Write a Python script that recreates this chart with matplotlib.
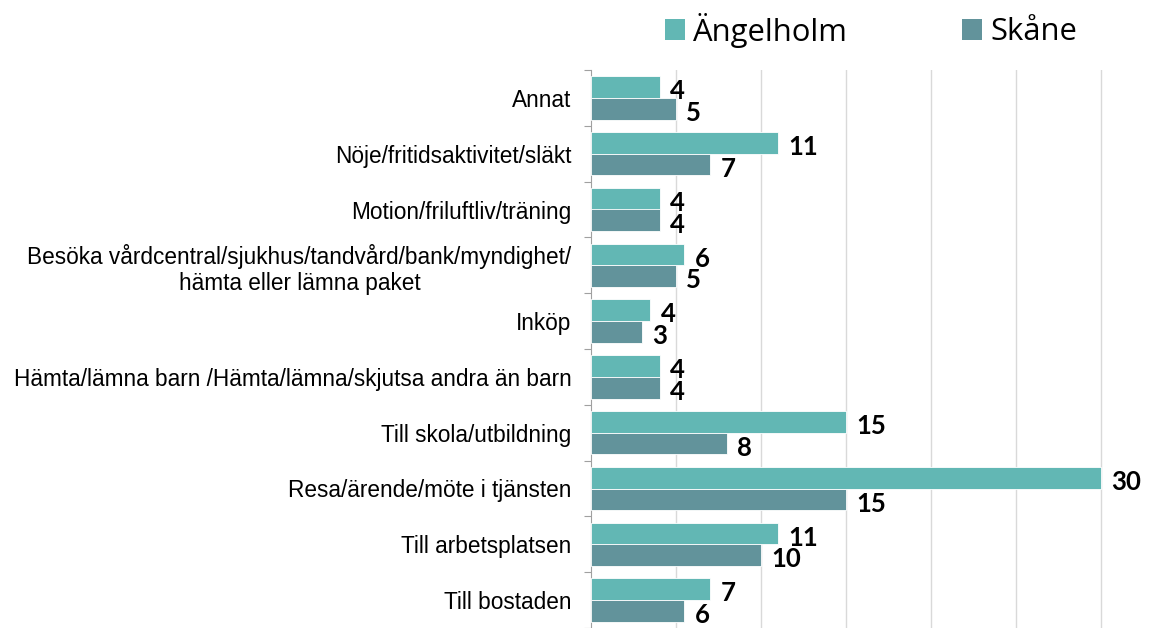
import matplotlib
matplotlib.use("Agg")
import matplotlib.pyplot as plt
import numpy as np
from matplotlib.patches import Patch

categories = [
    "Annat",
    "Nöje/fritidsaktivitet/släkt",
    "Motion/friluftliv/träning",
    "Besöka vårdcentral/sjukhus/tandvård/bank/myndighet/\nhämta eller lämna paket",
    "Inköp",
    "Hämta/lämna barn /Hämta/lämna/skjutsa andra än barn",
    "Till skola/utbildning",
    "Resa/ärende/möte i tjänsten",
    "Till arbetsplatsen",
    "Till bostaden",
]
angelholm = [4.05, 11, 4.05, 5.5, 3.5, 4.05, 15, 30, 11, 7]
skane = [5, 7, 4.05, 5, 3, 4.05, 8, 15, 10, 5.5]
series_names = ["Ängelholm", "Skåne"]
colors = ["#62B7B4", "#62939B"]

W, H = 1171, 628
fig = plt.figure(figsize=(W / 100, H / 100), dpi=100)
ax = fig.add_axes([591 / W, 0, (1111 - 591) / W, 1 - 70 / H])

n = len(categories)
y = np.arange(n)[::-1].astype(float)  # Annat at top
bh = 0.39
ax.barh(y + bh / 2, angelholm, height=bh, color=colors[0], edgecolor="white", linewidth=0.6, zorder=3)
ax.barh(y - bh / 2, skane, height=bh, color=colors[1], edgecolor="white", linewidth=0.6, zorder=3)

lab_font = {"family": ["Lato", "DejaVu Sans"], "weight": "bold", "size": 18.5}
for yy, v in zip(y, angelholm):
    ax.annotate(f"{v:.0f}", (v, yy + bh / 2), xytext=(7.5, -3), textcoords="offset points",
                ha="left", va="center", **lab_font)
for yy, v in zip(y, skane):
    ax.annotate(f"{v:.0f}", (v, yy - bh / 2), xytext=(7.5, -3), textcoords="offset points",
                ha="left", va="center", **lab_font)

ax.set_xlim(0, 30.6)
ax.set_ylim(-0.5 + 6 / 56.4, n - 0.5)
ax.set_yticks(y)
ax.set_yticklabels(categories, family=["Liberation Sans", "DejaVu Sans"], fontsize=16.3,
                   multialignment="center")
ax.tick_params(axis="y", which="major", length=0, pad=14)
ax.set_yticks(np.arange(n + 1) - 0.5, minor=True)
ax.tick_params(axis="y", which="minor", length=5, color="#A0A0A0", width=0.8)
ax.set_xticks(np.arange(5, 31, 5))
ax.tick_params(axis="x", length=0, labelbottom=False)
ax.grid(axis="x", color="#D9D9D9", linewidth=1, zorder=0)
for s in ["top", "right", "bottom"]:
    ax.spines[s].set_visible(False)
ax.spines["left"].set_color("#A0A0A0")
ax.spines["left"].set_linewidth(0.8)

handles = [Patch(facecolor=c, edgecolor="none") for c in colors]
fig.legend(handles, series_names, loc="center", bbox_to_anchor=(871 / W, 1 - 30 / H), ncol=2,
           frameon=False, prop={"family": ["Open Sans", "DejaVu Sans"], "size": 22.3},
           handlelength=0.645, handleheight=0.645, handletextpad=0.25, columnspacing=3.7,
           borderpad=0, borderaxespad=0)

fig.savefig("out.png", dpi=100)
